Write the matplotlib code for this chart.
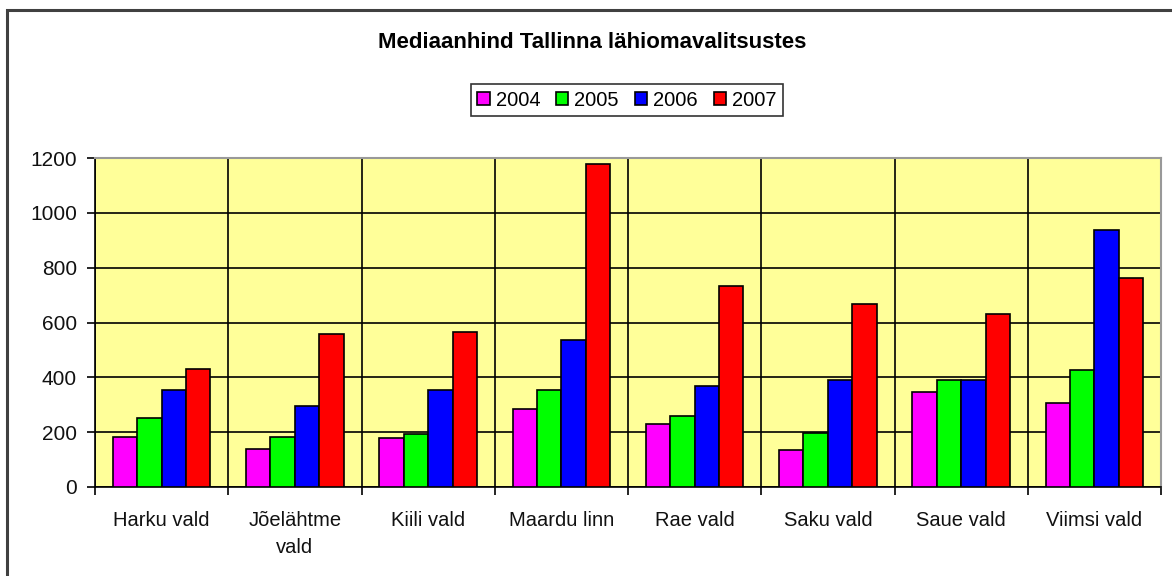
import numpy as np
import matplotlib.pyplot as plt
from matplotlib.patches import Rectangle

plt.rcParams["font.family"] = ["Liberation Sans", "DejaVu Sans"]

categories = ["Harku vald", "Jõelähtme\nvald", "Kiili vald", "Maardu linn",
              "Rae vald", "Saku vald", "Saue vald", "Viimsi vald"]
years = ["2004", "2005", "2006", "2007"]
v2004 = [183, 140, 177, 286, 228, 134, 345, 307]
v2005 = [250, 183, 192, 353, 258, 197, 390, 426]
v2006 = [353, 295, 353, 536, 368, 390, 390, 938]
v2007 = [432, 558, 564, 1179, 733, 668, 631, 764]
series = [v2004, v2005, v2006, v2007]
colors = ["#FF00FF", "#00FF00", "#0000FF", "#FF0000"]

W, H = 1172, 576
fig = plt.figure(figsize=(W / 100, H / 100), dpi=100)

# outer chart border (only left and top are visible in the crop)
fig.patches.append(Rectangle((7 / W, -0.1), 1.2, (H - 10) / H + 0.1,
                             transform=fig.transFigure, fill=False,
                             edgecolor="#404040", linewidth=2.2))

ax = fig.add_axes([95 / W, (H - 487) / H, (1161 - 95) / W, (487 - 158) / H])
ax.set_facecolor("#FFFF99")

x = np.arange(len(categories))
bw = 0.183
for i, (vals, c) in enumerate(zip(series, colors)):
    ax.bar(x + (i - 1.5) * bw, vals, bw, color=c, edgecolor="black",
           linewidth=1.2, label=years[i], zorder=3)

ax.set_xlim(-0.5, len(categories) - 0.5)
ax.set_ylim(0, 1200)
ax.set_yticks(range(0, 1201, 200))
ax.set_xticks(np.arange(len(categories) + 1) - 0.5)
ax.set_xticklabels([])
ax.set_xticks(x, minor=True)
ax.set_xticklabels(categories, minor=True, fontsize=14.5, linespacing=1.55,
                   color="#111111")
ax.tick_params(axis="x", which="minor", length=0, pad=17)
ax.tick_params(axis="x", which="major", length=6, direction="out", width=1.2)
ax.tick_params(axis="y", length=6, direction="out", width=1.2,
               labelsize=15, pad=7, labelcolor="#111111")
ax.grid(True, which="major", color="black", linewidth=1.2, zorder=1)
ax.set_axisbelow(True)
for s in ["top", "right"]:
    ax.spines[s].set_color("#999999")
    ax.spines[s].set_linewidth(1.5)
for s in ["left", "bottom"]:
    ax.spines[s].set_color("black")
    ax.spines[s].set_linewidth(1.2)

fig.text(592 / W, 1 - 42 / H, "Mediaanhind Tallinna lähiomavalitsustes",
         ha="center", va="center", fontsize=16, fontweight="bold")

leg = fig.legend(loc="center", bbox_to_anchor=(627 / W, 1 - 100 / H), ncol=4,
                 frameon=True, fancybox=False, fontsize=14.5, handlelength=0.6,
                 handleheight=0.6, handletextpad=0.3, columnspacing=0.8,
                 borderpad=0.3, borderaxespad=0)
leg.get_frame().set_edgecolor("black")
leg.get_frame().set_linewidth(1.2)

fig.savefig("out.png", dpi=100)
